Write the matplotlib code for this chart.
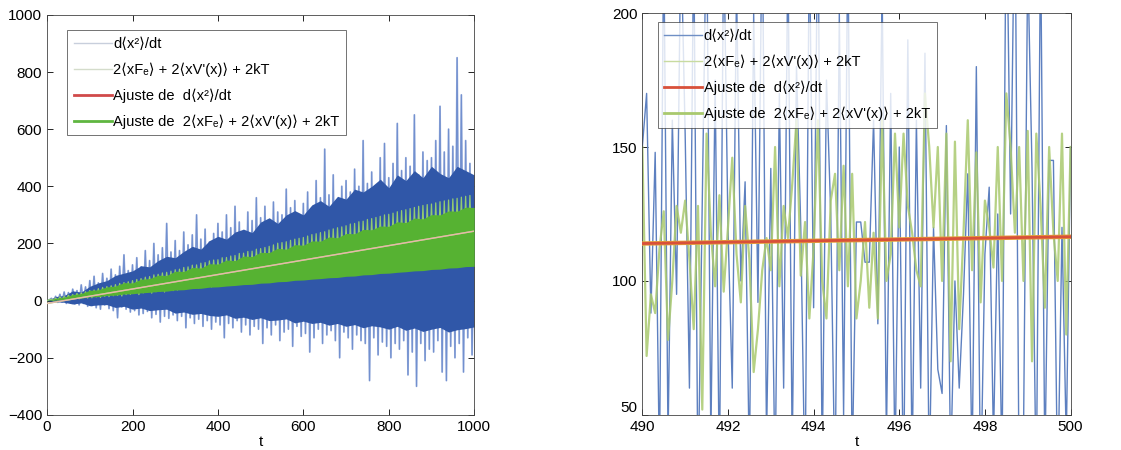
import matplotlib
matplotlib.use("Agg")
import matplotlib.pyplot as plt
import numpy as np

plt.rcParams["font.family"] = ["Liberation Sans", "DejaVu Sans"]

# --- long run, t = 0 .. 1000 ---
# extreme excursions, sampled every 5
t_long = np.arange(0, 1001, 5)

dx2_long = [
    0, 2, 8, -3, 15, -6, 22, -5, 30, -10, 28, -8, 40, -12, 35, -15, 55, -10, 48, -20,
    70, -18, 85, -25, 62, -30, 95, -15, 78, -28, 110, -35, 90, -60, 120, -22, 160, -30, 105, -40,
    125, -35, 150, -50, 118, -45, 175, -38, 140, -60, 200, -48, 160, -75, 185, -55, 270, -62, 170, -50,
    210, -70, 175, -55, 240, -95, 195, -60, 230, -80, 300, -65, 215, -90, 250, -70, 205, -100, 235, -75,
    270, -85, 240, -130, 300, -80, 255, -95, 330, -70, 275, -110, 245, -85, 310, -120, 280, -90, 360, -100,
    290, -150, 330, -95, 275, -120, 345, -85, 310, -140, 300, -110, 390, -100, 325, -160, 350, -90, 300, -125,
    340, -115, 380, -180, 320, -130, 420, -100, 360, -150, 530, -120, 370, -105, 440, -140, 350, -200, 400, -110,
    420, -130, 380, -170, 460, -120, 400, -140, 560, -150, 410, -280, 450, -130, 390, -190, 500, -145, 550, -160,
    430, -200, 480, -150, 620, -170, 455, -140, 500, -260, 470, -180, 650, -300, 440, -150, 520, -210, 490, -170,
    500, -180, 560, -140, 680, -250, 520, -280, 600, -160, 540, -200, 850, -150, 720, -250, 560, -130, 480, -190,
    200,
]

rhs_long = [
    0, 3, 5, 1, 9, 2, 13, 4, 15, 5, 19, 6, 21, 8, 25, 6, 27, 10, 31, 9,
    35, 10, 37, 13, 42, 11, 46, 15, 49, 14, 52, 17, 56, 18, 60, 16, 63, 21, 66, 22,
    70, 25, 74, 21, 77, 27, 82, 29, 84, 26, 90, 31, 92, 33, 97, 30, 99, 36, 103, 35,
    108, 37, 110, 42, 116, 40, 118, 43, 124, 46, 125, 44, 131, 49, 133, 52, 139, 48, 142, 53,
    143, 55, 150, 57, 151, 53, 156, 60, 158, 61, 165, 63, 166, 66, 172, 62, 173, 67, 180, 69,
    182, 72, 186, 70, 190, 73, 195, 77, 201, 75, 203, 80, 206, 82, 211, 78, 215, 84, 218, 86,
    221, 88, 226, 86, 231, 89, 234, 92, 238, 94, 241, 96, 247, 95, 251, 99, 255, 97, 258, 102,
    262, 104, 268, 101, 270, 105, 276, 109, 278, 110, 284, 108, 287, 114, 291, 112, 295, 116, 300, 118,
    302, 120, 306, 117, 311, 121, 315, 124, 318, 126, 322, 125, 326, 130, 330, 127, 333, 132, 336, 131,
    338, 135, 342, 134, 346, 137, 349, 140, 352, 139, 356, 143, 358, 141, 362, 146, 365, 145, 368, 150,
    240,
]

# bulk of each trace (where the samples pile up), every 20
t_core = np.arange(0, 1001, 20)

dx2_core_hi = [
    0, 14, 18, 34, 30, 50, 62, 70, 88, 96,
    104, 122, 118, 140, 155, 150, 172, 190, 180, 210,
    225, 215, 240, 250, 238, 275, 290, 270, 300, 315,
    300, 335, 350, 330, 365, 355, 390, 380, 400, 425,
    395, 440, 420, 455, 430, 470, 445, 430, 470, 455,
    440,
]
dx2_core_lo = [
    0, -4, -6, -12, -8, -18, -15, -14, -24, -20,
    -30, -26, -35, -32, -30, -44, -40, -48, -45, -52,
    -55, -50, -62, -58, -66, -60, -70, -68, -64, -78,
    -72, -80, -76, -86, -80, -90, -84, -95, -88, -92,
    -100, -90, -104, -96, -108, -100, -94, -110, -102, -98,
    -92,
]
rhs_core_hi = [
    0, 8, 12, 21, 25, 36, 38, 48, 51, 63,
    62, 75, 77, 89, 88, 103, 102, 116, 114, 129,
    128, 142, 140, 156, 154, 169, 168, 183, 180, 196,
    194, 209, 208, 223, 220, 235, 234, 249, 248, 261,
    260, 276, 273, 289, 286, 301, 300, 314, 313, 327,
    326,
]
rhs_core_lo = [
    0, 2, 4, 8, 9, 13, 14, 18, 19, 23,
    24, 27, 29, 32, 33, 37, 38, 42, 43, 47,
    48, 51, 53, 56, 57, 61, 62, 66, 67, 71,
    72, 75, 77, 80, 81, 85, 86, 90, 91, 95,
    96, 99, 101, 104, 105, 109, 110, 114, 115, 119,
    120,
]

# --- zoom window, t = 490 .. 500, sampled every 0.1 ---
t_zoom = np.round(np.arange(490, 500.01, 0.1), 1)

dx2_zoom = [
    150, 170, 88, 148, 30, 230, 40, 160, 95, 230,
    155, 60, 230, 20, 130, 240, 40, 175, 25, 230,
    120, 60, 210, 100, 137, 30, 200, 92, 240, 40,
    142, 25, 170, 60, 225, 35, 180, 120, 20, 230,
    90, 240, 30, 175, 125, 20, 200, 50, 230, 30,
    122, 122, 107, 107, 160, 84, 210, 40, 170, 30,
    150, 20, 190, 30, 160, 60, 185, 25, 120, 67,
    58, 158, 30, 100, 60, 95, 140, 30, 180, 20,
    110, 135, 40, 125, 30, 250, 125, 250, 20, 40,
    220, 142, 20, 230, 30, 145, 145, 20, 120, 40,
    150,
]

rhs_zoom = [
    150, 72, 95, 88, 112, 126, 78, 100, 128, 118,
    130, 108, 82, 128, 52, 155, 118, 98, 132, 96,
    120, 146, 110, 92, 128, 108, 66, 82, 104, 116,
    104, 150, 98, 128, 116, 136, 160, 102, 122, 86,
    112, 160, 100, 86, 130, 140, 104, 143, 98, 140,
    86, 100, 122, 90, 118, 86, 160, 100, 110, 155,
    120, 155, 128, 118, 104, 98, 170, 150, 120, 150,
    100, 155, 70, 152, 82, 118, 160, 104, 148, 92,
    130, 120, 105, 150, 100, 170, 150, 118, 150, 100,
    156, 70, 155, 128, 90, 150, 118, 100, 155, 80,
    150,
]

# linear fits of both curves (end points)
fit_t = [0, 1000]
fit_dx2 = [-10, 243]
fit_rhs = [-10, 243]

labels = [
    "d\u27e8x\u00b2\u27e9/dt",
    "2\u27e8xF\u2091\u27e9 + 2\u27e8xV'(x)\u27e9 + 2kT",
    "Ajuste de  d\u27e8x\u00b2\u27e9/dt",
    "Ajuste de  2\u27e8xF\u2091\u27e9 + 2\u27e8xV'(x)\u27e9 + 2kT",
]

fig = plt.figure(figsize=(11.21, 4.5), dpi=100)
ax1 = fig.add_axes([0.042, 0.078, 0.381, 0.889])
ax2 = fig.add_axes([0.573, 0.078, 0.382, 0.893])

# left: full run -- light excursions behind, dense bulk on top
ax1.plot(t_long, dx2_long, color="#a3b8e2", lw=0.8, zorder=1)
ax1.plot(t_long, dx2_long, color="#4a6fc0", lw=1.3, alpha=0.55, zorder=1.5)
ax1.fill_between(t_core, dx2_core_lo, dx2_core_hi, color="#3057a8", lw=0, zorder=2)
ax1.plot(t_long, rhs_long, color="#92cc70", lw=0.9, zorder=3)
ax1.fill_between(t_core, rhs_core_lo, rhs_core_hi, color="#56b232", lw=0, zorder=4)
ax1.plot(fit_t, fit_rhs, color="#9fd27f", lw=1.0, zorder=5)
ax1.plot(fit_t, fit_dx2, color="#e8b8a8", lw=1.0, zorder=6)
ax1.set_xlim(0, 1000)
ax1.set_ylim(-400, 1000)
ax1.set_xticks(range(0, 1001, 200))
ax1.set_yticks(range(-400, 1001, 200))

# right: zoom on 490..500
ax2.plot(t_zoom, dx2_zoom, color="#5d80c0", lw=1.0)
ax2.plot(t_zoom, rhs_zoom, color="#a9c96e", lw=1.6, alpha=0.85)
ax2.plot(fit_t, fit_rhs, color="#e6a03a", lw=3.2, zorder=3)
ax2.plot(fit_t, fit_dx2, color="#d8503a", lw=2.0, zorder=4)
ax2.set_xlim(490, 500)
ax2.set_ylim(50, 200)
ax2.set_xticks(range(490, 501, 2))
ax2.set_yticks([50, 100, 150, 200])

legend_colors = {
    ax1: ["#c8cfdc", "#d4dccb", "#d04a4a", "#5fb640"],
    ax2: ["#6f8fc5", "#c8dba0", "#d8503a", "#a9c96e"],
}
legend_anchor = {ax1: (0.03, 0.98), ax2: (0.019, 0.995)}
for ax in (ax1, ax2):
    ax.tick_params(direction="in", top=True, right=True, labelsize=11, length=4, width=0.6)
    ax.set_xlabel("t", fontsize=11, labelpad=1)
    for s in ax.spines.values():
        s.set_linewidth(0.6)
        s.set_color("#444444")
    handles = [plt.Line2D([], [], color=c, lw=2 if i >= 2 else 1) for i, c in enumerate(legend_colors[ax])]
    leg = ax.legend(handles, labels, loc="upper left", bbox_to_anchor=legend_anchor[ax],
                    fontsize=10.5, frameon=True, fancybox=False, edgecolor="#333333",
                    handlelength=2.6, handletextpad=0.1, labelspacing=0.8, borderpad=0.45)
    leg.get_frame().set_linewidth(0.6)
    leg.set_zorder(10)

# keep the lowest y label of the zoom panel clear of the first x label
ax2.get_yticklabels()[0].set_verticalalignment("bottom")

fig.savefig("out.png", dpi=100)
